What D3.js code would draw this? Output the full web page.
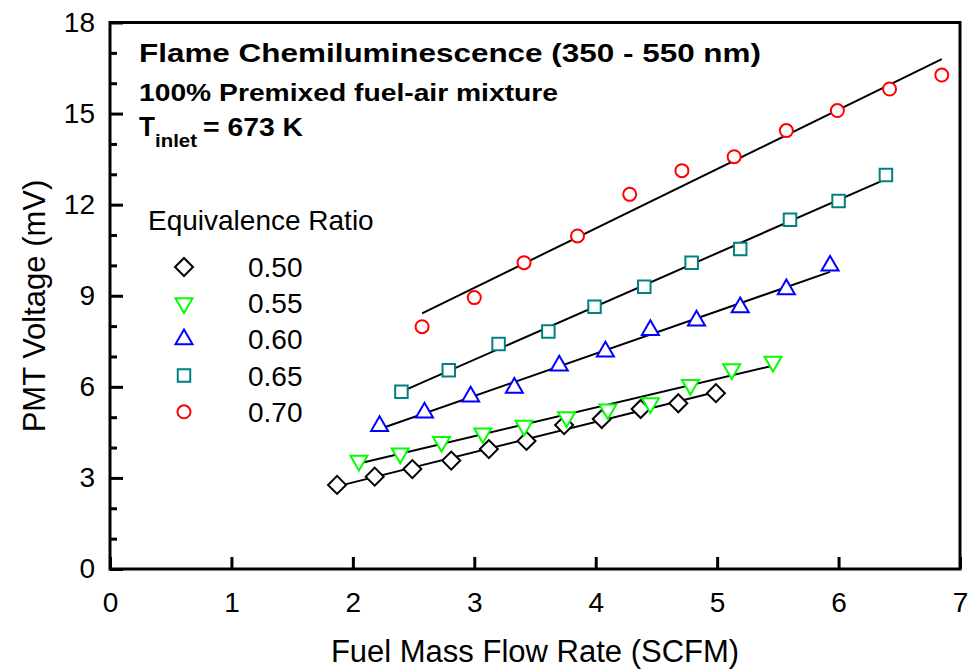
<!DOCTYPE html>
<html>
<head>
<meta charset="utf-8">
<script src="https://cdn.jsdelivr.net/npm/d3@7"></script>
<style>
  body { margin: 0; background: #fff; }
  svg { display: block; font-family: "Liberation Sans", Arial, sans-serif; }
</style>
</head>
<body>
<svg id="chart" width="980" height="670"></svg>
<script>
// ******************** Data ************************
var xTicks = [0, 1, 2, 3, 4, 5, 6, 7];
var yMajor = [0, 3, 6, 9, 12, 15, 18];
var yMinor = [1, 2, 4, 5, 7, 8, 10, 11, 13, 14, 16, 17];

var ratios = ["0.50", "0.55", "0.60", "0.65", "0.70"];

var flow050 = [1.87, 2.18, 2.49, 2.81, 3.12, 3.43, 3.74, 4.05, 4.37, 4.68, 4.99];
var pmt050  = [2.77, 3.04, 3.29, 3.57, 3.95, 4.22, 4.74, 4.94, 5.27, 5.46, 5.79];

var flow055 = [2.05, 2.39, 2.73, 3.07, 3.41, 3.76, 4.10, 4.45, 4.78, 5.12, 5.46];
var pmt055  = [3.57, 3.81, 4.19, 4.47, 4.72, 5.00, 5.26, 5.46, 6.06, 6.58, 6.83];

var flow060 = [2.22, 2.59, 2.97, 3.33, 3.70, 4.08, 4.45, 4.83, 5.19, 5.57, 5.93];
var pmt060  = [4.71, 5.15, 5.68, 5.97, 6.70, 7.16, 7.87, 8.18, 8.62, 9.21, 9.99];

var flow065 = [2.40, 2.79, 3.20, 3.61, 3.99, 4.40, 4.79, 5.19, 5.60, 6.00, 6.39];
var pmt065  = [5.84, 6.55, 7.41, 7.82, 8.64, 9.30, 10.09, 10.54, 11.50, 12.12, 12.98];

var flow070 = [2.57, 3.00, 3.41, 3.85, 4.28, 4.71, 5.14, 5.57, 5.99, 6.42, 6.85];
var pmt070  = [7.98, 8.94, 10.09, 10.97, 12.34, 13.12, 13.58, 14.44, 15.10, 15.81, 16.27];

// ******************** Setup ************************
var flows = [flow050, flow055, flow060, flow065, flow070];
var pmts = [pmt050, pmt055, pmt060, pmt065, pmt070];
var colors = ["#000000", "#00ff00", "#0000ff", "#008080", "#ff0000"];
var symbols = [
  { type: d3.symbolSquare, size: 162, rot: 45 },   // diamond
  { type: d3.symbolTriangle, size: 125, rot: 180 }, // down triangle
  { type: d3.symbolTriangle, size: 125, rot: 0 },   // up triangle
  { type: d3.symbolSquare, size: 156, rot: 0 },
  { type: d3.symbolCircle, size: 133, rot: 0 }
];

var x = d3.scaleLinear().domain([0, 7]).range([110, 960]);
var y = d3.scaleLinear().domain([0, 18]).range([569, 22.5]);

var svg = d3.select("#chart");

// linear least squares fit over each series' x range
function fit(xs, ys) {
  var mx = d3.mean(xs), my = d3.mean(ys);
  var sxy = d3.sum(xs, function (d, i) { return (d - mx) * (ys[i] - my); });
  var sxx = d3.sum(xs, function (d) { return (d - mx) * (d - mx); });
  var b = sxy / sxx, a = my - b * mx;
  return d3.extent(xs).map(function (v) { return [v, a + b * v]; });
}

function marker(g, i) {
  var s = symbols[i];
  g.append("path")
    .attr("d", d3.symbol().type(s.type).size(s.size)())
    .attr("transform", "rotate(" + s.rot + ")")
    .attr("fill", "#fff")
    .attr("stroke", colors[i])
    .attr("stroke-width", 2);
}

// ******************** Axes ************************
var yAxis = svg.append("g")
  .attr("transform", "translate(" + x(0) + ",0)")
  .call(d3.axisLeft(y).tickValues(yMajor).tickSize(-13).tickPadding(15));
var yAxisMinor = svg.append("g")
  .attr("transform", "translate(" + x(0) + ",0)")
  .call(d3.axisLeft(y).tickValues(yMinor).tickSize(-7).tickFormat(""));
var xAxis = svg.append("g")
  .attr("transform", "translate(0," + y(0) + ")")
  .call(d3.axisBottom(x).tickValues(xTicks).tickSize(-12).tickPadding(23).tickFormat(d3.format("d")));

[yAxis, yAxisMinor, xAxis].forEach(function (a) {
  a.select(".domain").remove();
  a.selectAll("line").attr("stroke", "#000").attr("stroke-width", 3);
  a.selectAll("text").attr("fill", "#000").style("font-size", "28px")
    .style("font-family", "'Liberation Sans', Arial, sans-serif");
});

// frame
svg.append("rect")
  .attr("x", x(0)).attr("y", y(18))
  .attr("width", x(7) - x(0)).attr("height", y(0) - y(18))
  .attr("fill", "none").attr("stroke", "#000").attr("stroke-width", 3);

// axis titles
svg.append("text")
  .attr("x", (x(0) + x(7)) / 2).attr("y", 662)
  .attr("text-anchor", "middle").style("font-size", "31px")
  .text("Fuel Mass Flow Rate (SCFM)");
svg.append("text")
  .attr("transform", "translate(45,306) rotate(-90)")
  .attr("text-anchor", "middle").style("font-size", "31px")
  .text("PMT Voltage (mV)");

// ******************** Fit lines & points ************************
var line = d3.line().x(function (d) { return x(d[0]); }).y(function (d) { return y(d[1]); });

flows.forEach(function (xs, i) {
  svg.append("path")
    .attr("d", line(fit(xs, pmts[i])))
    .attr("fill", "none").attr("stroke", "#000").attr("stroke-width", 2);
});

flows.forEach(function (xs, i) {
  var g = svg.append("g");
  xs.forEach(function (v, j) {
    var p = g.append("g").attr("transform", "translate(" + x(v) + "," + y(pmts[i][j]) + ")");
    marker(p, i);
  });
});

// ******************** Annotation ************************
svg.append("text").attr("x", 139).attr("y", 62)
  .style("font-size", "26px").style("font-weight", "bold")
  .attr("textLength", 622).attr("lengthAdjust", "spacingAndGlyphs")
  .text("Flame Chemiluminescence (350 - 550 nm)");
svg.append("text").attr("x", 139).attr("y", 101)
  .style("font-size", "24px").style("font-weight", "bold")
  .attr("textLength", 419).attr("lengthAdjust", "spacingAndGlyphs")
  .text("100% Premixed fuel-air mixture");
svg.append("text").attr("x", 139).attr("y", 136)
  .style("font-size", "27px").style("font-weight", "bold")
  .attr("textLength", 16).attr("lengthAdjust", "spacingAndGlyphs")
  .text("T");
svg.append("text").attr("x", 155).attr("y", 147)
  .style("font-size", "18px").style("font-weight", "bold")
  .attr("textLength", 42).attr("lengthAdjust", "spacingAndGlyphs")
  .text("inlet");
svg.append("text").attr("x", 203).attr("y", 136)
  .style("font-size", "26px").style("font-weight", "bold")
  .attr("textLength", 100).attr("lengthAdjust", "spacingAndGlyphs")
  .text("= 673 K");

// ******************** Legend ************************
svg.append("text").attr("x", 148).attr("y", 230)
  .style("font-size", "28px").text("Equivalence Ratio");

ratios.forEach(function (r, i) {
  var base = 277 + i * 36.2;
  var p = svg.append("g").attr("transform", "translate(184," + (base - 10) + ")");
  marker(p, i);
  svg.append("text").attr("x", 248).attr("y", base)
    .style("font-size", "28px").text(r);
});
</script>
</body>
</html>
